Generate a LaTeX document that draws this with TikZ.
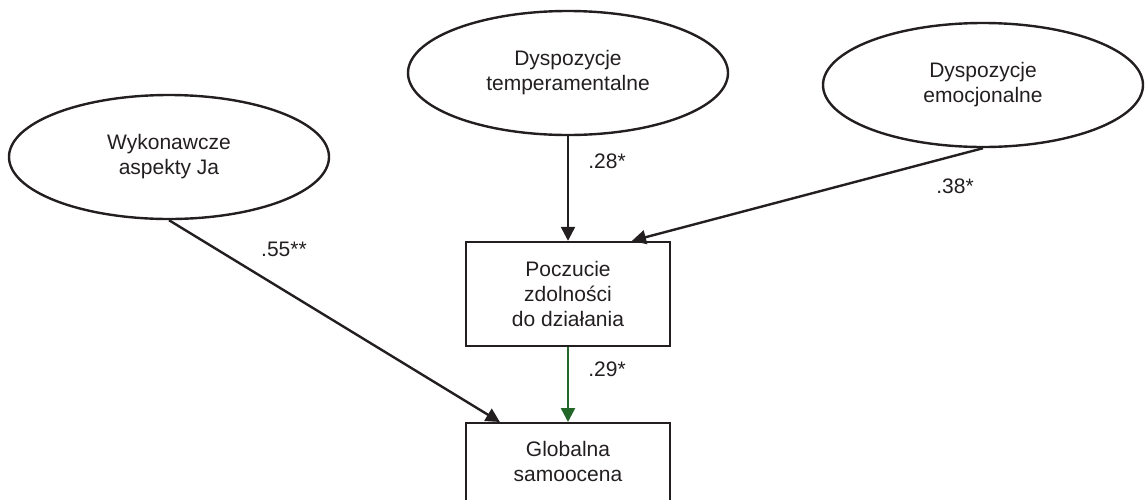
\documentclass[tikz,border=0pt]{standalone}
\usepackage{fontspec}
\setmainfont{Liberation Sans}
\usepackage{xcolor}
\usepackage{tikz}
\usetikzlibrary{shapes,arrows.meta,positioning,calc,shapes.geometric}

\definecolor{ink}{RGB}{35,31,32}
\definecolor{pathgreen}{RGB}{34,102,40}

\begin{document}
\begin{tikzpicture}[x=1pt, y=-1pt, >={Triangle[length=14pt,width=14pt]}]
    \tikzstyle{latent} = [ellipse, draw=ink, text=ink, line width=2.4pt, minimum width=320pt, minimum height=124pt, inner sep=0pt, align=center, font=\fontsize{21}{25}\selectfont]
    \tikzstyle{obs} = [rectangle, draw=ink, text=ink, line width=2.4pt, minimum width=204pt, minimum height=104pt, align=center, font=\fontsize{21}{25}\selectfont]
    \tikzstyle{coef} = [inner sep=0pt, text=ink, font=\fontsize{21}{25}\selectfont]
    \tikzstyle{arrow} = [draw=ink, ->, line width=2.4pt]

    \useasboundingbox (0,0) rectangle (1146,499);
    \clip (0,0) rectangle (1146,499);

    % latent variables
    \node [latent] (wyk) at (169,157) {Wykonawcze\\aspekty Ja};
    \node [latent] (temp) at (568,73) {Dyspozycje\\temperamentalne};
    \node [latent] (emo) at (983,85) {Dyspozycje\\emocjonalne};

    % observed variables
    \node [obs] (pzd) at (568,294) {Poczucie\\zdolności\\do działania};
    \node [obs, anchor=north, text depth=28pt] (gsam) at (568,422) {Globalna\\samoocena};

    % paths
    \draw [arrow] (temp.south) -- (pzd.north);
    \draw [arrow] (emo.south) -- ($(pzd.north west)!0.81!(pzd.north east)$);
    \draw [arrow] (wyk.south) -- ($(gsam.north west)!0.17!(gsam.north east)$);
    \draw [arrow, draw=pathgreen] (pzd.south) -- (gsam.north);

    % coefficients
    \node [coef] (c55) at (284,249) {.55**};
    \node [coef] (c28) at (607,161) {.28*};
    \node [coef] (c38) at (955,186) {.38*};
    \node [coef] (c29) at (607,369) {.29*};
\end{tikzpicture}
\end{document}
